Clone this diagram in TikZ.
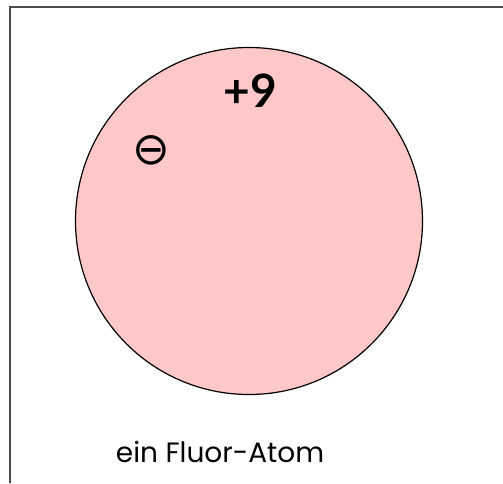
\documentclass[tikz,border=0pt]{standalone}
\usepackage{fontspec}
\setmainfont{Lato}
\newfontfamily\capfont{Poppins}
\newfontfamily\symfont{DejaVu Sans}
\definecolor{nucleus}{HTML}{FFC8C8}
\definecolor{framegray}{HTML}{4D4D4D}
\tikzset{
  frameline/.style={draw=framegray, line width=2pt},
  atom/.style={circle, draw=black, fill=nucleus, line width=1.2pt, minimum size=347pt, inner sep=0pt},
  lbl/.style={inner sep=0pt, text=black}
}
\begin{document}
\begin{tikzpicture}[x=1pt,y=-1pt]
\useasboundingbox (0,0) rectangle (503,483);
\coordinate (fa) at (9.5,483);
\coordinate (fb) at (9.5,6.5);
\coordinate (fc) at (503,6.5);
\draw[frameline] (fa) -- (fb) -- (fc);
\node[atom] (atom) at (249,221) {};
\node[lbl, font=\bfseries\fontsize{46}{46}\selectfont] (charge) at (250,91) {+9};
\node[lbl, font=\symfont\fontsize{45}{45}\selectfont] (electron) at (151,150) {⊖};
\node[lbl, anchor=base, font=\capfont\fontsize{28}{28}\selectfont] (caption) at (220,462) {ein Fluor-Atom};
\end{tikzpicture}
\end{document}
